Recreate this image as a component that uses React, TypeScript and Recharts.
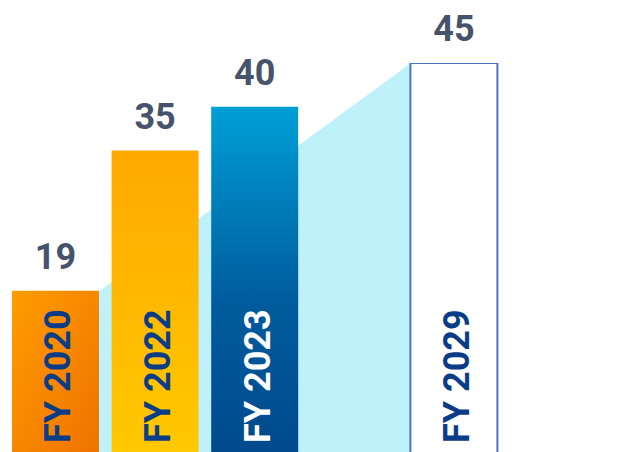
import React from 'react';
import { ComposedChart, Bar, Area, XAxis, YAxis, Cell, LabelList } from 'recharts';

const years = ['FY 2020', 'FY 2022', 'FY 2023', '', 'FY 2029'];
const values = [19, 35, 40, null, 45];
// light blue growth band behind the bars (at slot centres)
const trend = [15.3, null, null, null, 48.6];

const fills = ['url(#gOrange)', 'url(#gYellow)', 'url(#gBlue)', 'none', '#ffffff'];
const textColors = ['#0b3c87', '#0b3c87', '#ffffff', '#0b3c87', '#0b3c87'];

const data = years.map((year, i) => ({ year, value: values[i], trend: trend[i] }));

const FONT = 'Roboto, "Noto Sans", sans-serif';

const YearLabel = (props: any) => {
  const { x, y, width, height, value } = props;
  const i = years.indexOf(value);
  if (!value || i < 0) return null;
  const px = x + width / 2 + 2;
  const py = y + height - 14;
  return (
    <text
      x={px}
      y={py}
      dy="0.36em"
      transform={`rotate(-90, ${px}, ${py})`}
      textAnchor="start"
      fill={textColors[i]}
      fontFamily={FONT}
      fontWeight={700}
      fontSize={36}
    >
      {value}
    </text>
  );
};

const ValueLabel = (props: any) => {
  const { x, y, width, value } = props;
  if (value == null) return null;
  return (
    <text
      x={x + width / 2}
      y={y - 22}
      textAnchor="middle"
      fill="#46536b"
      fontFamily={FONT}
      fontWeight={700}
      fontSize={36}
    >
      {value}
    </text>
  );
};

export default function App() {
  return (
    <div style={{ position: 'absolute', left: 0, top: 0, width: 628, height: 452, overflow: 'hidden', background: '#fff' }}>
      <ComposedChart
        width={628}
        height={457}
        data={data}
        margin={{ top: 63, right: 124, bottom: 0, left: 6 }}
        barSize={87}
      >
        <defs>
          <linearGradient id="gOrange" x1="0" y1="0" x2="1" y2="1">
            <stop offset="0%" stopColor="#ff9c00" />
            <stop offset="100%" stopColor="#ef7200" />
          </linearGradient>
          <linearGradient id="gYellow" x1="0" y1="0" x2="0" y2="1">
            <stop offset="0%" stopColor="#ffa900" />
            <stop offset="100%" stopColor="#ffc900" />
          </linearGradient>
          <linearGradient id="gBlue" x1="0" y1="0" x2="0" y2="1">
            <stop offset="0%" stopColor="#009fd6" />
            <stop offset="55%" stopColor="#005c9e" />
            <stop offset="100%" stopColor="#00498c" />
          </linearGradient>
        </defs>
        <XAxis dataKey="year" hide />
        <YAxis hide domain={[0, 45]} allowDataOverflow />
        <Area
          dataKey="trend"
          type="linear"
          connectNulls
          fill="#bff1fb"
          fillOpacity={1}
          stroke="none"
          isAnimationActive={false}
        />
        <Bar dataKey="value" isAnimationActive={false}>
          {data.map((d, i) => (
            <Cell
              key={i}
              fill={fills[i]}
              stroke={i === 4 ? '#4a72c8' : 'none'}
              strokeWidth={i === 4 ? 2 : 0}
            />
          ))}
          <LabelList dataKey="value" content={ValueLabel} />
          <LabelList dataKey="year" content={YearLabel} />
        </Bar>
      </ComposedChart>
    </div>
  );
}
